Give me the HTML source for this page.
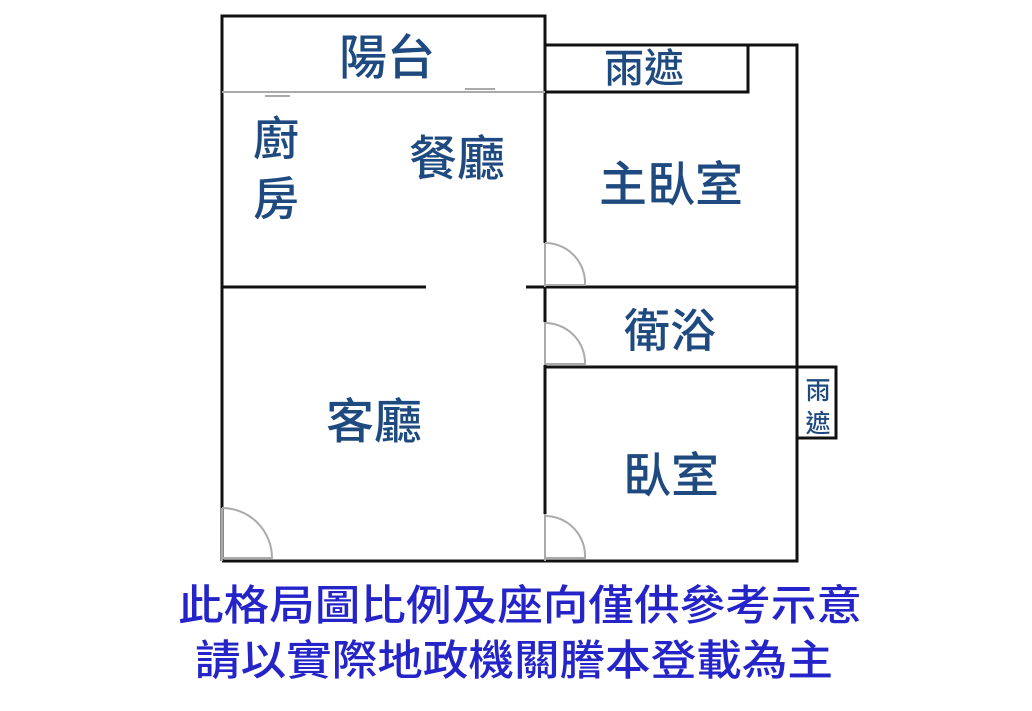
<!DOCTYPE html>
<html><head><meta charset="utf-8"><style>
html,body{margin:0;padding:0;background:#fff;width:1032px;height:711px;overflow:hidden}
svg{display:block}
.r{font-family:"Liberation Sans","Noto Sans CJK TC",sans-serif;fill:#1e4a80;font-weight:500}
.b{font-family:"Liberation Sans","Noto Sans CJK TC",sans-serif;fill:#2424c8;font-weight:500}
</style></head><body>
<svg width="1032" height="711" viewBox="0 0 1032 711">
<g stroke="#111" stroke-width="3" fill="none">
<!-- balcony -->
<polyline points="222,561 222,16 545,16 545,243"/>
<polyline points="545,45 797,45 797,561 222,561"/>
<rect x="545" y="45" width="203" height="47"/>
<line x1="222" y1="287" x2="426" y2="287"/>
<line x1="526" y1="287" x2="797" y2="287"/>
<line x1="545" y1="287" x2="545" y2="322"/>
<line x1="545" y1="365" x2="545" y2="514"/>
<line x1="545" y1="367" x2="797" y2="367"/>
<polyline points="797,367 836,367 836,438 797,438"/>
</g>
<g stroke="#aaa" stroke-width="2" fill="none">
<line x1="222" y1="92" x2="545" y2="92"/>
<line x1="545" y1="243" x2="545" y2="287"/>
<line x1="545" y1="322" x2="545" y2="365"/>
<line x1="545" y1="514" x2="545" y2="561"/>
<line x1="222" y1="508" x2="222" y2="561"/>
<path d="M545,243 A40,40 0 0 1 585,285 L545,285"/>
<path d="M545,323 A40,40 0 0 1 585,364 L545,364"/>
<path d="M545,516 A40,40 0 0 1 585,558 L545,558"/>
<path d="M222,508 A50,50 0 0 1 272,558 L222,558"/>
<line x1="265" y1="96" x2="290" y2="96"/>
<line x1="465" y1="89" x2="495" y2="89"/>
</g>
<text class="r" x="387" y="74" font-size="48" text-anchor="middle">陽台</text>
<text class="r" x="644" y="82" font-size="40" text-anchor="middle">雨遮</text>
<text class="r" x="276" y="155" font-size="46" text-anchor="middle">廚</text>
<text class="r" x="276" y="215" font-size="46" text-anchor="middle">房</text>
<text class="r" x="457" y="175" font-size="48" text-anchor="middle">餐廳</text>
<text class="r" x="671" y="201" font-size="48" text-anchor="middle">主臥室</text>
<text class="r" x="670" y="347" font-size="46" text-anchor="middle">衛浴</text>
<text class="r" x="374" y="438" font-size="48" text-anchor="middle">客廳</text>
<text class="r" x="671" y="492" font-size="48" text-anchor="middle">臥室</text>
<text class="r" x="818" y="399" font-size="25" text-anchor="middle">雨</text>
<text class="r" x="818" y="432" font-size="25" text-anchor="middle">遮</text>
<text class="b" x="520" y="620" font-size="42" text-anchor="middle" textLength="684" lengthAdjust="spacingAndGlyphs">此格局圖比例及座向僅供參考示意</text>
<text class="b" x="514" y="675" font-size="42" text-anchor="middle" textLength="638" lengthAdjust="spacingAndGlyphs">請以實際地政機關謄本登載為主</text>
</svg>
</body></html>
